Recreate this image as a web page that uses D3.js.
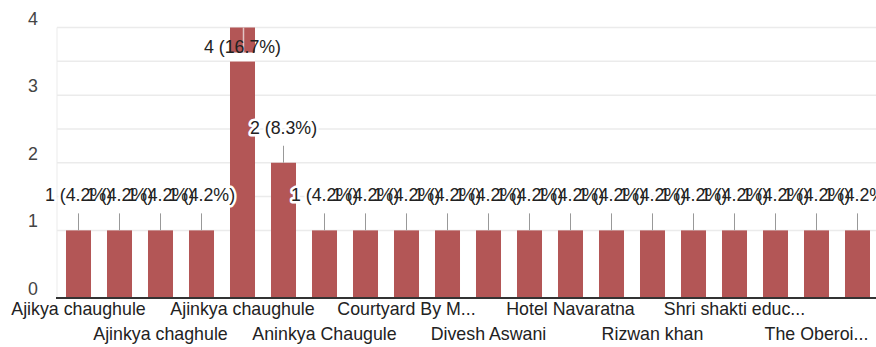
<!DOCTYPE html>
<html>
<head>
<meta charset="utf-8">
<script src="https://cdn.jsdelivr.net/npm/d3@7"></script>
<style>
  html, body { margin: 0; padding: 0; background: #fff; }
  svg { display: block; font-family: "Liberation Sans", Arial, sans-serif; }
</style>
</head>
<body>
<svg id="chart" width="876" height="347"></svg>
<script>
// ---- data ----
const categories = [
  "Ajikya chaughule", "Ajinkya", "Ajinkya chaghule", "Ajinkya chaugule",
  "Ajinkya chaughule", "Ajinkya Chaughule", "Aninkya Chaugule", "Ankit",
  "Courtyard By M...", "Deepak", "Divesh Aswani", "Hotel Kohinoor",
  "Hotel Navaratna", "Rahul", "Rizwan khan", "Sagar",
  "Shri shakti educ...", "Sumit", "The Oberoi...", "Vikas"
];
const values = [1, 1, 1, 1, 4, 2, 1, 1, 1, 1, 1, 1, 1, 1, 1, 1, 1, 1, 1, 1];
const yTicks = [0, 1, 2, 3, 4];
const gridValues = [1, 1.5, 2, 2.5, 3, 3.5, 4];

(function () {
// ---- layout ----
const svg = d3.select("#chart");
const pLeft = 58, pRight = 878, pTop = 27.5, pBottom = 298;
const fs = 17.8;
const total = d3.sum(values);
const pct = d3.format(".1%");

const x = d3.scaleBand().domain(categories).range([pLeft, pRight])
  .paddingInner(0.39).paddingOuter(0.195);
const y = d3.scaleLinear().domain([0, 4]).range([pBottom, pTop]);

// gridlines
svg.append("g").selectAll("line").data(gridValues).join("line")
  .attr("x1", pLeft - 1).attr("x2", 876)
  .attr("y1", d => y(d)).attr("y2", d => y(d))
  .attr("stroke", "#ebebeb").attr("stroke-width", 1.5);
svg.append("line")
  .attr("x1", pLeft - 1).attr("x2", pLeft - 1)
  .attr("y1", y(4)).attr("y2", y(0))
  .attr("stroke", "#ebebeb").attr("stroke-width", 1);

// y tick labels
svg.append("g").selectAll("text").data(yTicks).join("text")
  .attr("x", 38).attr("y", d => y(d) - 3)
  .attr("text-anchor", "end")
  .attr("font-size", fs).attr("fill", "#444")
  .text(d => d);

// bars
const data = categories.map((c, i) => ({ c, v: values[i], i }));
svg.append("g").selectAll("rect").data(data).join("rect")
  .attr("x", d => x(d.c)).attr("width", x.bandwidth())
  .attr("y", d => y(d.v)).attr("height", d => y(0) - y(d.v))
  .attr("fill", "#b35656");

// baseline
svg.append("line")
  .attr("x1", pLeft - 2).attr("x2", 876)
  .attr("y1", y(0)).attr("y2", y(0))
  .attr("stroke", "#333").attr("stroke-width", 2);

// annotations
const ann = data.map(d => {
  const inside = y(d.v) - 29 < 12;
  return {
    ...d, inside,
    cx: x(d.c) + x.bandwidth() / 2,
    base: inside ? y(d.v) + 25 : y(d.v) - 29,
    label: d.v + " (" + pct(d.v / total) + ")"
  };
});

// stems
const stems = svg.append("g");
ann.forEach(a => {
  if (a.inside) {
    stems.append("line")
      .attr("x1", a.cx + 1).attr("x2", a.cx + 1)
      .attr("y1", y(a.v)).attr("y2", a.base)
      .attr("stroke", "#e2c4c4").attr("stroke-width", 1.5);
    stems.append("rect")
      .attr("x", x(a.c)).attr("width", x.bandwidth())
      .attr("y", a.base).attr("height", 9)
      .attr("fill", "#fff");
  } else {
    stems.append("line")
      .attr("x1", a.cx).attr("x2", a.cx)
      .attr("y1", a.base + 12).attr("y2", y(a.v))
      .attr("stroke", "#999").attr("stroke-width", 1);
  }
});

// halos first, then texts
const outside = ann.filter(a => !a.inside);
svg.append("g").selectAll("text").data(outside).join("text")
  .attr("x", d => d.cx).attr("y", d => d.base)
  .attr("text-anchor", "middle").attr("font-size", fs)
  .attr("fill", "#fff").attr("stroke", "#fff").attr("stroke-width", 5)
  .attr("stroke-linejoin", "round")
  .text(d => d.label);
svg.append("g").selectAll("text").data(ann).join("text")
  .attr("x", d => d.cx).attr("y", d => d.base)
  .attr("text-anchor", "middle").attr("font-size", fs)
  .attr("fill", "#222")
  .text(d => d.label);

// category labels (every other, alternating rows)
svg.append("g").selectAll("text").data(data.filter(d => d.i % 2 === 0)).join("text")
  .attr("x", d => x(d.c) + x.bandwidth() / 2)
  .attr("y", d => ((d.i / 2) % 2 === 0) ? 315 : 340)
  .attr("text-anchor", "middle").attr("font-size", fs)
  .attr("fill", "#222")
  .text(d => d.c);
})();
</script>
</body>
</html>
